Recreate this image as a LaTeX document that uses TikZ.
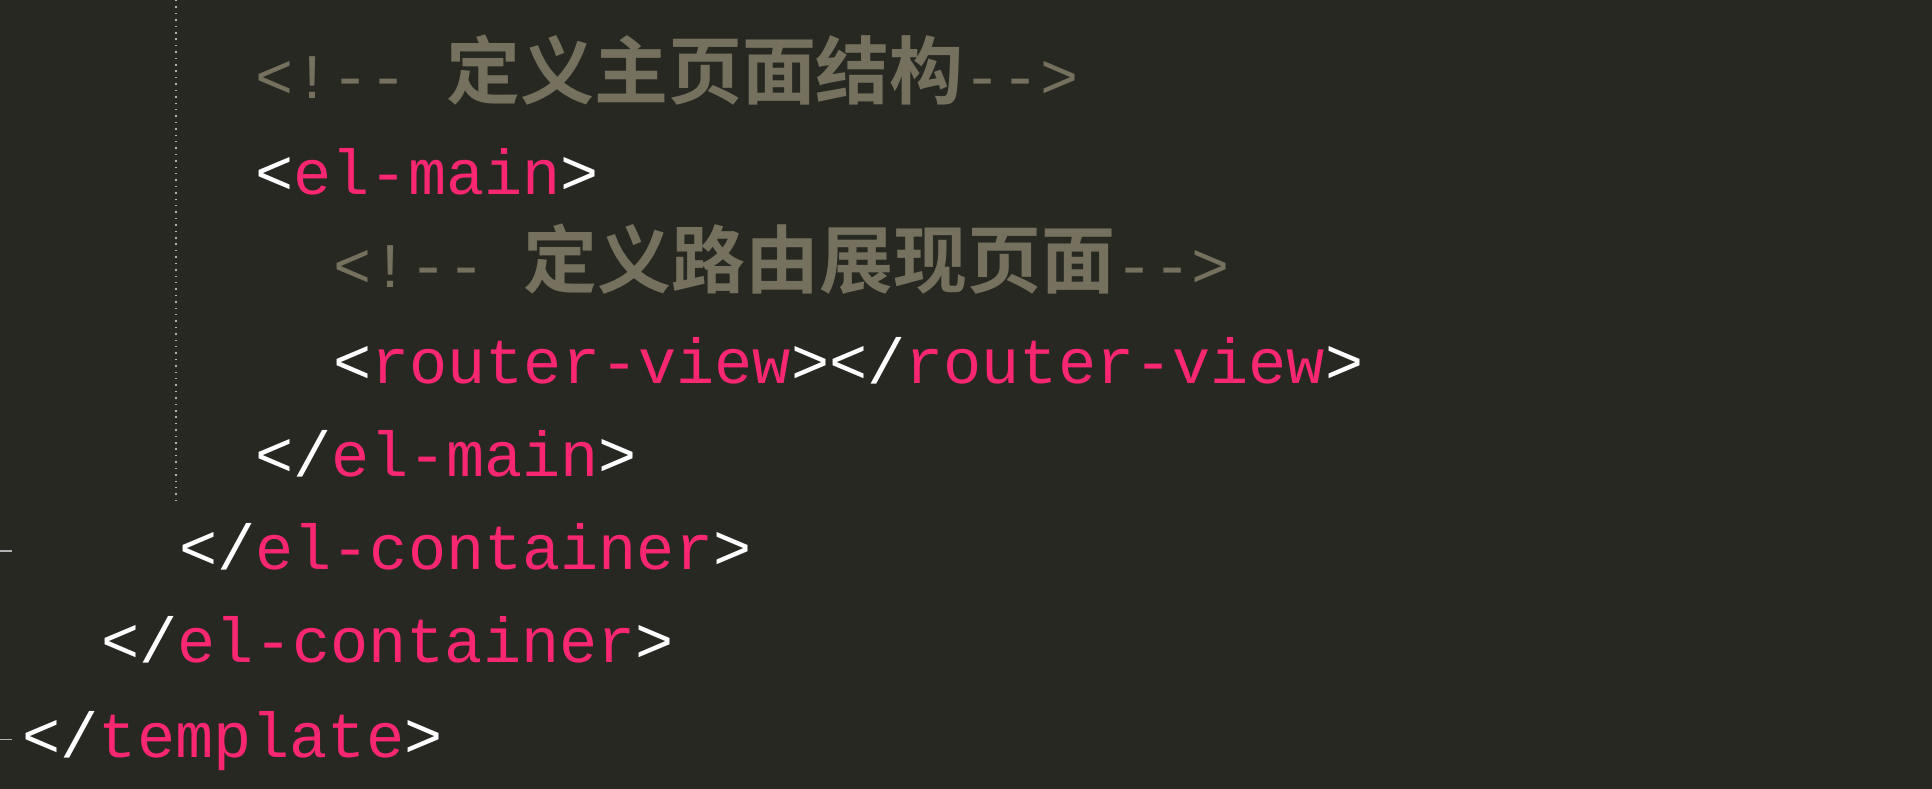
\documentclass[tikz,border=0pt]{standalone}
\usepackage{fontspec}
\setmonofont{Liberation Mono}
\newfontfamily\cjk{Noto Sans CJK SC}[BoldFont=* Bold]
\definecolor{bg}{HTML}{272822}
\definecolor{tagc}{HTML}{F92672}
\definecolor{cmt}{HTML}{75715E}
\newcommand{\Tg}[1]{\textcolor{tagc}{#1}}
\newcommand{\Wh}[1]{\textcolor{white}{#1}}
\newcommand{\Cj}[1]{{\cjk\bfseries\fontsize{30pt}{30pt}\selectfont #1}}
\tikzset{codeline/.style={anchor=base west,inner sep=0pt,font=\ttfamily\fontsize{25.8pt}{26pt}\selectfont}}
\begin{document}
\begin{tikzpicture}[x=0.5pt,y=-0.5pt]
\fill[bg] (0,0) rectangle (1568,640);
\useasboundingbox (0,0) rectangle (1568,640);
\draw[gray!60,dotted,line width=0.6pt] (143,0) -- (143,408);
\draw[gray!60,line width=0.6pt] (0,447) -- (10,447);
\draw[gray!60,line width=0.6pt] (0,600) -- (10,600);
\node[codeline,text=cmt] (l1) at (207,80) {<!-- \Cj{定义主页面结构}-->};
\node[codeline] (l2) at (207,158) {\Wh{<}\Tg{el-main}\Wh{>}};
\node[codeline,text=cmt] (l3) at (270,233) {<!-- \Cj{定义路由展现页面}-->};
\node[codeline] (l4) at (270,311) {\Wh{<}\Tg{router-view}\Wh{></}\Tg{router-view}\Wh{>}};
\node[codeline] (l5) at (207,387) {\Wh{</}\Tg{el-main}\Wh{>}};
\node[codeline] (l6) at (145,462) {\Wh{</}\Tg{el-container}\Wh{>}};
\node[codeline] (l7) at (82,538) {\Wh{</}\Tg{el-container}\Wh{>}};
\node[codeline] (l8) at (18,615) {\Wh{</}\Tg{template}\Wh{>}};
\end{tikzpicture}
\end{document}
